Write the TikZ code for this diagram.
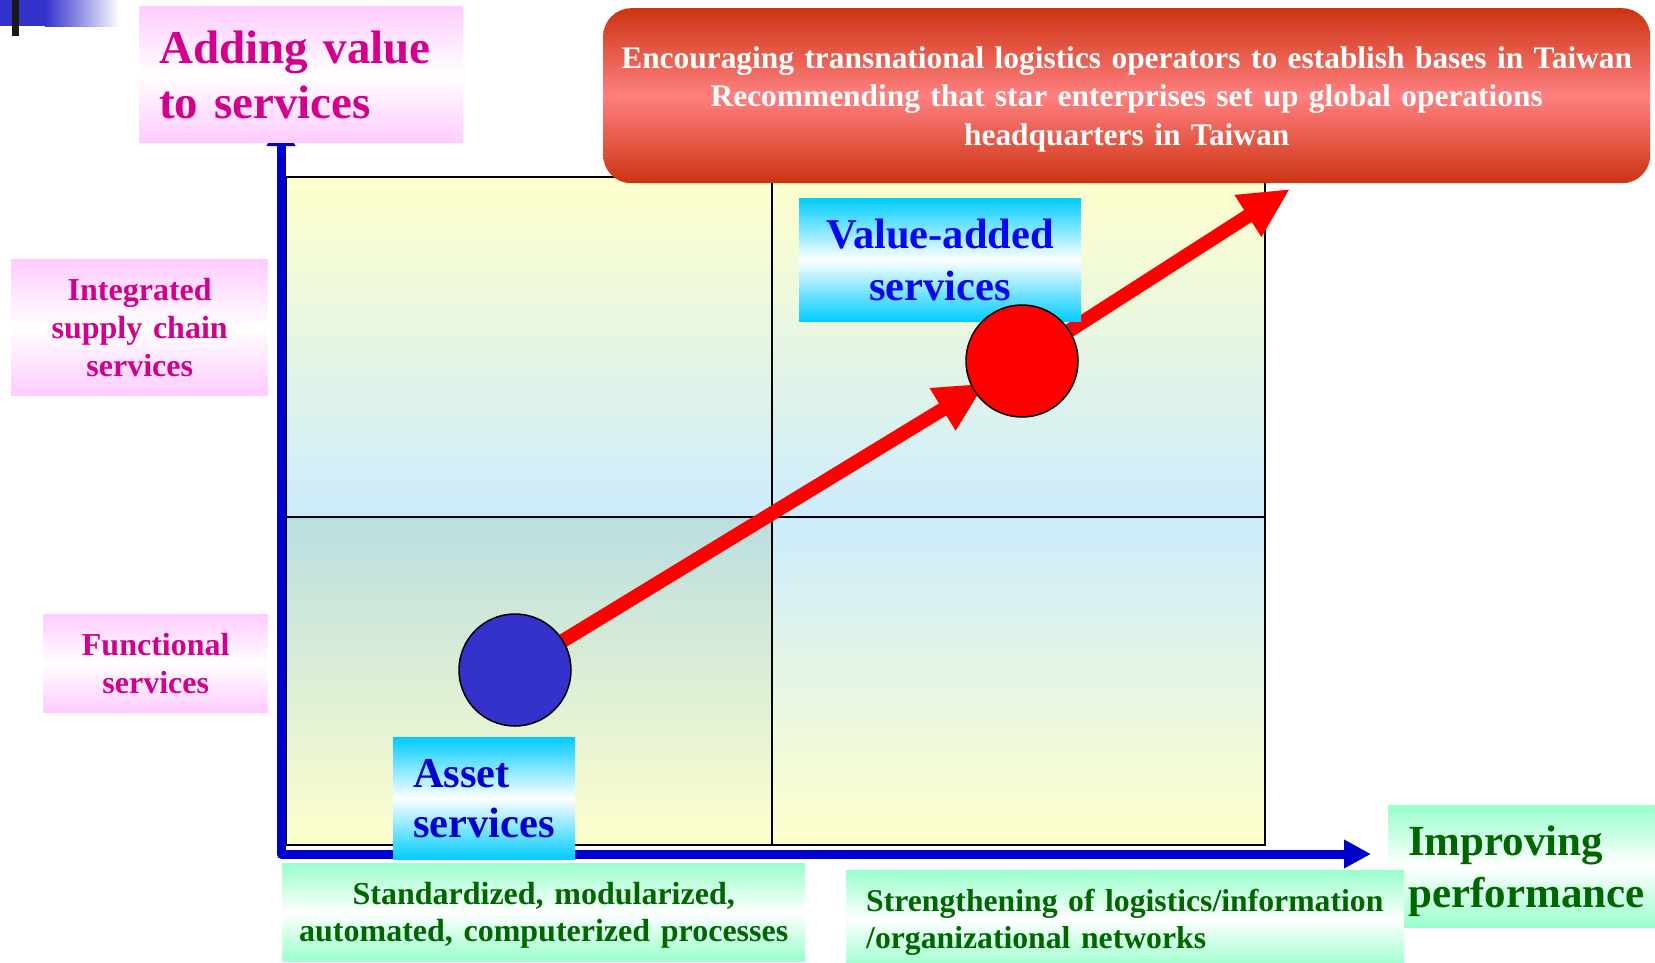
\documentclass[tikz,border=0pt]{standalone}
\usepackage{fontspec}
\setmainfont{Liberation Serif}
\usetikzlibrary{arrows.meta,calc}
\definecolor{mag}{RGB}{210,0,140}
\definecolor{pinkc}{RGB}{255,204,255}
\definecolor{cyanc}{RGB}{0,204,255}
\definecolor{mintc}{RGB}{153,255,204}
\definecolor{dgreen}{RGB}{0,102,0}
\definecolor{axisblue}{RGB}{0,0,204}
\definecolor{ballblue}{RGB}{51,51,204}
\definecolor{valblue}{RGB}{8,8,238}
\definecolor{assetblue}{RGB}{0,0,204}
\definecolor{rtop}{RGB}{204,51,17}
\definecolor{rmid}{RGB}{255,128,128}
\definecolor{gyellow}{RGB}{255,255,204}
\definecolor{gblue}{RGB}{204,236,252}
\definecolor{gteal}{RGB}{186,222,224}
\definecolor{logoblue}{RGB}{51,51,204}
\pgfdeclarelayer{bg}
\pgfdeclarelayer{mid}
\pgfsetlayers{bg,mid,main}
\begin{document}
\begin{tikzpicture}[x=1pt,y=-1pt,
  box/.style={anchor=north west, inner ysep=0pt},
  pinkbox/.style={box, top color=pinkc, bottom color=pinkc, middle color=white, text=mag},
  cyanbox/.style={box, top color=cyanc, bottom color=cyanc, middle color=white},
  mintbox/.style={box, top color=mintc, bottom color=mintc, middle color=white, text=dgreen},
  redbox/.style={box, rounded corners=28pt, top color=rtop, bottom color=rtop, middle color=rmid, text=white},
  ball/.style={circle, draw=black, line width=1.5pt, minimum size=112pt, inner sep=0pt},
  gridline/.style={draw=black, line width=2pt},
  axisline/.style={draw=axisblue, line width=9pt, line join=round,
    {Triangle[length=27pt,width=27pt]}-{Triangle[length=27pt,width=27pt]}},
  redarrow/.style={draw=red, line width=14pt, -{Triangle[length=50pt,width=46pt]}}
]
\useasboundingbox (0,0) rectangle (1655,962);

% logo
\fill[logoblue] (0,0) rectangle (45,26);
\shade[left color=logoblue, right color=white] (45,0) rectangle (120,26);
\fill[black!90] (12,0) rectangle (19,36);

% grid and axes
\begin{pgfonlayer}{bg}
\shade[top color=gyellow, bottom color=gblue] (286,177) rectangle (1265,517);
\shade[top color=gteal, bottom color=gyellow] (286,517) rectangle (772,845);
\shade[top color=gblue, bottom color=gyellow] (772,517) rectangle (1265,845);
\draw[gridline] (286,177) rectangle (1265,845);
\draw[gridline] (772,177) -- (772,845);
\draw[gridline] (286,517) -- (1265,517);
\coordinate (origin) at (281,854);
\coordinate (ytip) at (281,119);
\coordinate (xtip) at (1371,854);
\draw[axisline] (ytip) -- (origin) -- (xtip);
\end{pgfonlayer}

% boxes
\node[pinkbox, minimum width=324pt, minimum height=136pt, inner xsep=20pt, text width=284pt, align=left, text depth=55pt,
  font=\fontsize{47}{55}\selectfont\bfseries] (av) at (139,6) {\mbox{Adding value}\\\mbox{to services}};
\node[pinkbox, minimum width=257pt, minimum height=136pt, inner xsep=4pt, text width=249pt, align=center, text depth=76pt,
  font=\fontsize{32}{38}\selectfont\bfseries] (isc) at (11,259) {Integrated\\supply chain\\services};
\node[pinkbox, minimum width=225pt, minimum height=98pt, inner xsep=4pt, text width=217pt, align=center, text depth=38pt,
  font=\fontsize{32}{38}\selectfont\bfseries] (fs) at (43,614) {Functional\\services};
\node[cyanbox, text=valblue, minimum width=282pt, minimum height=123pt, inner xsep=4pt, text width=274pt, align=center, text depth=52pt,
  font=\fontsize{42.5}{52}\selectfont\bfseries] (va) at (799,198) {Value-added\\services};
\node[cyanbox, text=assetblue, minimum width=182pt, minimum height=122pt, inner xsep=20pt, text width=142pt, align=left, text depth=50pt,
  font=\fontsize{42.5}{50}\selectfont\bfseries] (as) at (393,737) {\mbox{Asset}\\\mbox{services}};
\node[mintbox, minimum width=523pt, minimum height=98pt, inner xsep=4pt, text width=515pt, align=center, text depth=37pt,
  font=\fontsize{32}{37}\selectfont\bfseries] (st) at (282,863) {Standardized, modularized,\\automated, computerized processes};
\node[mintbox, minimum width=267pt, minimum height=122pt, inner xsep=20pt, text width=227pt, align=left, text depth=52pt,
  font=\fontsize{43}{52}\selectfont\bfseries] (ip) at (1388,805) {\mbox{Improving}\\\mbox{performance}};
\node[mintbox, minimum width=558pt, minimum height=98pt, inner xsep=20pt, text width=518pt, align=left, text depth=37pt,
  font=\fontsize{31.7}{37}\selectfont\bfseries] (sg) at (846,870) {\mbox{Strengthening of logistics/information}\\\mbox{/organizational networks}};
\node[redbox, minimum width=1047pt, minimum height=175pt, inner xsep=4pt, text width=1039pt, align=center, text depth=77pt,
  font=\fontsize{31.4}{38.5}\selectfont\bfseries] (rb) at (603,8)
  {Encouraging transnational logistics operators to establish bases in Taiwan\\Recommending that star enterprises set up global operations\\headquarters in Taiwan};

% circles
\node[ball, fill=ballblue] (bc) at (515,670) {};
\node[ball, fill=red] (rc) at (1022,361) {};
\coordinate (tip2) at (1290,189);

% red arrows
\begin{pgfonlayer}{mid}
\draw[redarrow, shorten >=43pt] (bc.center) -- (rc.center);
\draw[redarrow] (rc.center) -- (tip2);
\end{pgfonlayer}
\end{tikzpicture}
\end{document}
